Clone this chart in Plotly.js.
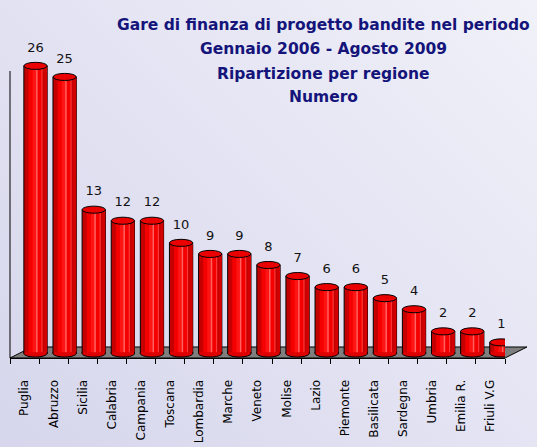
<!DOCTYPE html>
<html><head><meta charset="utf-8">
<script src="https://cdn.plot.ly/plotly-3.0.1.min.js"></script>
<style>
html,body{margin:0;padding:0;}
body{width:537px;height:447px;overflow:hidden;background:linear-gradient(45deg,#d6d6ec 0%,#e3e3f3 50%,#f1f1f9 100%);}
#chart{width:537px;height:447px;}
</style>
</head><body><div id="chart"></div>
<script>
const regions = ["Puglia","Abruzzo","Sicilia","Calabria","Campania","Toscana","Lombardia","Marche","Veneto","Molise","Lazio","Piemonte","Basilicata","Sardegna","Umbria","Emilia R.","Friuli V.G"];
const counts = [26,25,13,12,12,10,9,9,8,7,6,6,5,4,2,2,1];
const titleLines = ["Gare di finanza di progetto bandite nel periodo","Gennaio 2006 - Agosto 2009","Ripartizione per regione","Numero"];
const titleY = [25,49,74,97];

const HALF_W = 0.4;   // half bar width (category units)
const CAP_H = 0.32;   // half ellipse height (value units)

function band(offset, width, color, lw) {
  return {type:'bar', x:regions, y:counts, xaxis:'x2', yaxis:'y',
    offset:offset, width:width,
    marker:{color:color, line:{color:'#000', width:lw}},
    hoverinfo:'skip', showlegend:false};
}

const traces = [
  {type:'scatter', mode:'markers', x:regions, y:counts, xaxis:'x', yaxis:'y',
   marker:{opacity:0}, hoverinfo:'skip', showlegend:false},
  band(-0.4, 0.8, '#c40000', 1),
  band(-0.24, 0.46, '#f40000', 0),
  band(-0.1, 0.16, '#ff1414', 0),
  band(0.02, 0.05, '#ff6262', 0),
  band(0.2, 0.04, '#ff3a3a', 0),
  band(0.3, 0.1, '#d40000', 0),
  {type:'scatter', mode:'markers+text', x:regions, y:counts, xaxis:'x2', yaxis:'y',
   text:counts.map(String), textposition:'top center',
   marker:{size:16, color:'rgba(0,0,0,0)'},
   textfont:{family:'DejaVu Sans', size:13, color:'#111'},
   cliponaxis:false, hoverinfo:'skip', showlegend:false}
];

const plotTop = 40, plotBottom = 358, plotH = plotBottom - plotTop;
const shapes = [];
// floor
shapes.push({type:'path', xref:'paper', yref:'paper', layer:'below',
  path:'M 0,0 L 1,0 L 1.0444,0.0346 L 0.0444,0.0346 Z',
  fillcolor:'#7f7f7f', line:{color:'#000', width:1}});
// left axis line
shapes.push({type:'line', xref:'paper', yref:'paper', x0:0, x1:0, y0:0, y1:(plotBottom-71)/plotH,
  line:{color:'#000', width:1}});
const k = 0.5523;
counts.forEach((v,i) => {
  const a = HALF_W, b = CAP_H, cx = i;
  const p = `M ${cx-a},0.12 L ${cx-a},0 C ${cx-a},${-k*b} ${cx-k*a},${-b} ${cx},${-b} C ${cx+k*a},${-b} ${cx+a},${-k*b} ${cx+a},0 L ${cx+a},0.12`;
  shapes.push({type:'path', xref:'x2', yref:'y', layer:'above', path:p,
    fillcolor:'#dc0000', line:{color:'#000', width:1}});
  shapes.push({type:'circle', xref:'x2', yref:'y', layer:'above',
    x0:cx-a, x1:cx+a, y0:v-b, y1:v+b,
    fillcolor:'#ea0000', line:{color:'#000', width:1}});
});

const annotations = titleLines.map((t,i) => ({
  text:'<b>'+t+'</b>', xref:'paper', yref:'paper', x:0.634, y:(plotBottom-titleY[i])/plotH,
  xanchor:'center', yanchor:'middle', showarrow:false,
  font:{family:'DejaVu Sans', size:15.5, color:'#14147a'}
}));

const layout = {
  width:537, height:447,
  margin:{l:10, r:32, t:plotTop, b:447-plotBottom, pad:0},
  paper_bgcolor:'rgba(0,0,0,0)', plot_bgcolor:'rgba(0,0,0,0)',
  barmode:'overlay', showlegend:false,
  xaxis:{type:'category', range:[-0.5,16.5], showline:true, linecolor:'#000', linewidth:1,
    ticks:'outside', ticklen:5, tickcolor:'#000', tickson:'boundaries', tickangle:-90,
    tickfont:{family:'DejaVu Sans', size:12, color:'#000'}, ticklabelstandoff:16,
    showgrid:false, zeroline:false},
  xaxis2:{type:'category', overlaying:'x', anchor:'y', range:[-0.876,16.124], visible:false},
  yaxis:{range:[-0.41,28.34], visible:false, showgrid:false, zeroline:false},
  shapes:shapes, annotations:annotations
};

Plotly.newPlot('chart', traces, layout, {staticPlot:true, displayModeBar:false});
</script>
</body></html>
